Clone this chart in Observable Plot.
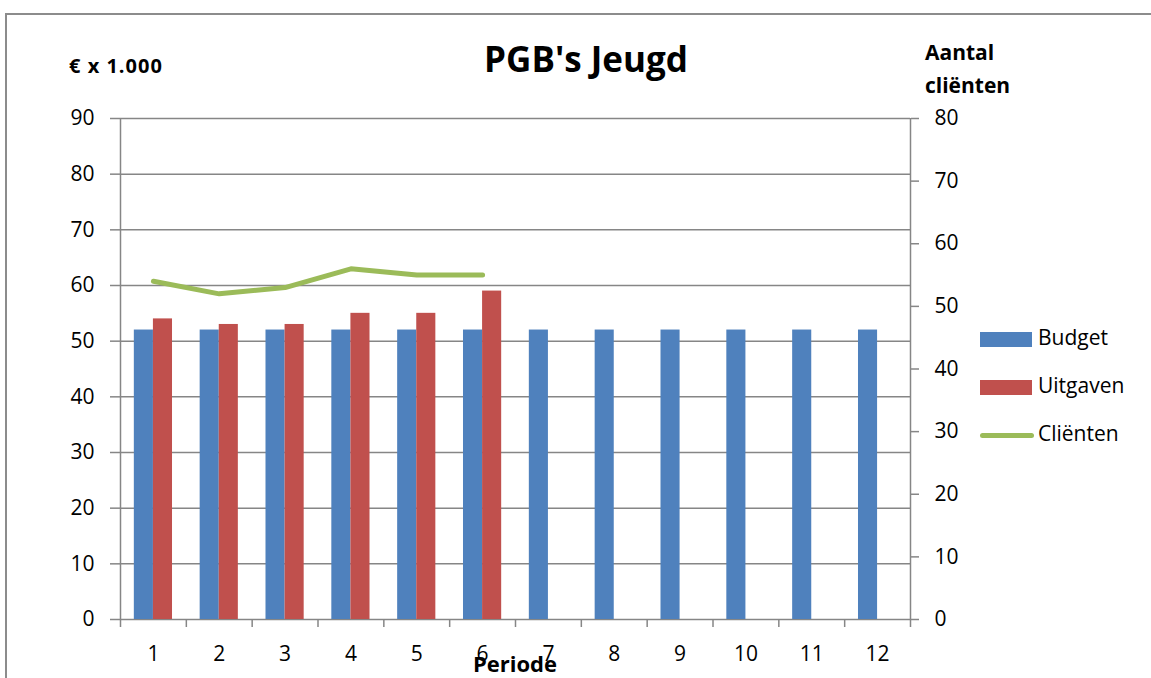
<!DOCTYPE html>
<html>
<head>
<meta charset="utf-8">
<script src="https://cdn.jsdelivr.net/npm/d3@7"></script>
<script src="https://cdn.jsdelivr.net/npm/@observablehq/plot@0.6"></script>
<style>
  html, body { margin: 0; padding: 0; background: #fff; }
  #wrap { position: relative; width: 1151px; height: 678px; overflow: hidden; font-family: "Open Sans", "Noto Sans", sans-serif; color: #000; }
  #frame { position: absolute; left: 5px; top: 13px; width: 1200px; height: 700px; border-top: 2px solid #8c8c8c; border-left: 2px solid #8c8c8c; }
  #chart { position: absolute; left: 0; top: 0; }
  .t { position: absolute; white-space: nowrap; font-weight: bold; }
  .leg { position: absolute; left: 980px; top: 0; font-size: 21px; }
  .leg .row { position: absolute; left: 0; height: 24px; width: 170px; }
  .leg .sw { position: absolute; left: 0; top: 5px; width: 52px; height: 15px; }
  .leg .ln { position: absolute; left: 0; top: 10px; width: 54px; height: 5px; border-radius: 3px; }
  .leg .lb { position: absolute; left: 58px; top: -4px; }
</style>
</head>
<body>
<div id="wrap">
  <div id="frame"></div>
  <div id="chart"></div>
  <div class="t" style="left:586px; top:35px; font-size:35px; transform:translateX(-50%);">PGB's Jeugd</div>
  <div class="t" style="left:69px; top:52px; font-size:20px; letter-spacing:1px;">€ x 1.000</div>
  <div class="t" style="left:925px; top:36px; font-size:21px; line-height:33px;">Aantal<br>cliënten</div>
  <div class="t" style="left:515px; top:648px; font-size:22px; transform:translateX(-50%);">Periode</div>
  <div class="leg" id="legend"></div>
</div>
<script>
const periods = [1,2,3,4,5,6,7,8,9,10,11,12];
const budget = [52,52,52,52,52,52,52,52,52,52,52,52];
const uitgaven = [54,53,53,55,55,59];
const clienten = [54,52,53,56,55,55];
const leftTicks = [0,10,20,30,40,50,60,70,80,90];
const rightTicks = [0,10,20,30,40,50,60,70,80];
const seriesNames = ["Budget","Uitgaven","Cliënten"];
const colors = ["#4F81BD","#C0504D","#9BBB59"];

const leftMax = 90, rightMax = 80;
const toLeft = v => v * leftMax / rightMax;
const barW = 0.29;

const budgetData = periods.map((p,i) => ({period: p, value: budget[i]}));
const uitgData = uitgaven.map((v,i) => ({period: periods[i], value: v}));
const clientData = clienten.map((v,i) => ({period: periods[i], value: v}));

const grid = "#868686";
const fs = 21;

const chart = Plot.plot({
  width: 1151,
  height: 678,
  marginLeft: 120,
  marginRight: 241,
  marginTop: 118,
  marginBottom: 59,
  style: {fontFamily: "'Open Sans', 'Noto Sans', sans-serif", fontSize: "21px", color: "#000", background: "transparent", overflow: "visible"},
  x: {type: "linear", domain: [0.5, 12.5]},
  y: {domain: [0, leftMax]},
  marks: [
    Plot.ruleY(leftTicks, {stroke: grid, strokeWidth: 1.5}),
    Plot.rectY(budgetData, {x1: d => d.period - barW, x2: d => d.period, y1: 0, y2: "value", fill: colors[0]}),
    Plot.rectY(uitgData, {x1: d => d.period, x2: d => d.period + barW, y1: 0, y2: "value", fill: colors[1]}),
    Plot.line(clientData, {x: "period", y: d => toLeft(d.value), stroke: colors[2], strokeWidth: 5, strokeLinecap: "round", strokeLinejoin: "round"}),
    Plot.ruleX([0.5, 12.5], {stroke: grid, strokeWidth: 1.5}),
    Plot.axisY(leftTicks, {anchor: "left", tickSize: 10, tickPadding: 16, stroke: grid, strokeWidth: 1.5, label: null, fill: "#000", fontSize: fs}),
    Plot.axisY(rightTicks.map(toLeft), {anchor: "right", tickSize: 8, tickPadding: 16, stroke: grid, strokeWidth: 1.5, tickFormat: v => String(Math.round(v * rightMax / leftMax)), label: null, fill: "#000", fontSize: fs}),
    Plot.axisX(d3.range(0.5, 12.6, 1), {tickSize: 8, tickFormat: () => "", stroke: grid, strokeWidth: 1.5, label: null}),
    Plot.axisX(periods, {tickSize: 0, tickPadding: 27, tickFormat: d => String(d), label: null, fill: "#000", fontSize: fs})
  ]
});
document.getElementById("chart").appendChild(chart);

// legend
const leg = document.getElementById("legend");
const legY = [327, 375, 423];
seriesNames.forEach((name, i) => {
  const row = document.createElement("div");
  row.className = "row";
  row.style.top = legY[i] + "px";
  const sw = document.createElement("div");
  sw.className = i === 2 ? "ln" : "sw";
  sw.style.background = colors[i];
  const lb = document.createElement("div");
  lb.className = "lb";
  lb.textContent = name;
  row.appendChild(sw); row.appendChild(lb);
  leg.appendChild(row);
});
</script>
</body>
</html>
